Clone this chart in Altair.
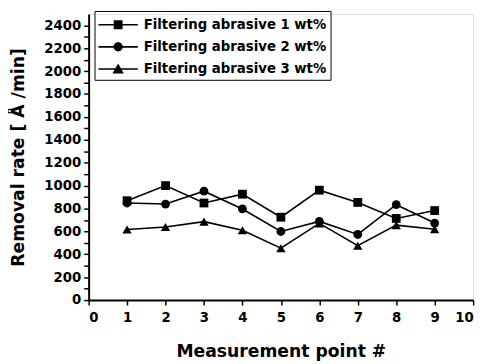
import altair as alt
import pandas as pd

points = [1, 2, 3, 4, 5, 6, 7, 8, 9]
series_names = ["Filtering abrasive 1 wt%", "Filtering abrasive 2 wt%", "Filtering abrasive 3 wt%"]
s1 = [868, 1000, 848, 925, 724, 960, 853, 713, 782]
s2 = [848, 839, 951, 796, 599, 687, 573, 833, 673]
s3 = [616, 638, 685, 610, 453, 670, 475, 655, 619]

rows = []
for name, vals in zip(series_names, [s1, s2, s3]):
    for p, v in zip(points, vals):
        rows.append({"point": p, "rate": v, "series": name})
df = pd.DataFrame(rows)

FONT = "DejaVu Sans"
shapes = ["square", "circle", "triangle-up"]
LINE = "M-1,-0.08H3V0.08H-1Z"
legend_paths = [
    LINE + "M0.55,-0.45H1.45V0.45H0.55Z",
    LINE + "M1.47,0A0.47,0.47,0,1,1,0.53,0A0.47,0.47,0,1,1,1.47,0Z",
    LINE + "M1,-0.55L1.58,0.45L0.42,0.45Z",
]

axis_common = dict(grid=False, tickSize=5, labelFont=FONT, titleFont=FONT,
                   labelFontWeight="bold", titleFontWeight="bold", labelOverlap=False,
                   domainColor="black", tickColor="black", labelColor="black",
                   titleColor="black", domainWidth=2, tickWidth=1.5,
                   labelFontSize=13.5, titleFontSize=17.5)

x = alt.X("point:Q", scale=alt.Scale(domain=[0, 10], nice=False),
          axis=alt.Axis(values=list(range(0, 11)), title="Measurement point #", format="d",
                        labelPadding=6, titlePadding=19, **axis_common))
y = alt.Y("rate:Q", scale=alt.Scale(domain=[0, 2500], nice=False),
          axis=alt.Axis(values=list(range(0, 2500, 100)), title="Removal rate [ Å /min]",
                        format="d",
                        labelExpr="datum.value % 200 == 0 ? datum.label : ''",
                        labelPadding=3, titlePadding=17, **axis_common))

base = alt.Chart(df)
lines = base.mark_line(color="black", strokeWidth=1.6).encode(
    x=x, y=y, detail="series:N")

pt_layers = []
for name, shp, sz in zip(series_names, shapes, [80, 80, 90]):
    pt_layers.append(
        base.transform_filter(alt.datum.series == name)
        .mark_point(filled=True, color="black", size=sz, opacity=1, shape=shp)
        .encode(x=x, y=y)
    )

leg = base.mark_point(filled=True, color="black", opacity=0).encode(
    x=x, y=y,
    size=alt.value(400),
    shape=alt.Shape("series:N", scale=alt.Scale(domain=series_names, range=legend_paths),
                    legend=alt.Legend(title=None, orient="none", legendX=6, legendY=-3,
                                      symbolSize=400, symbolOpacity=1, symbolFillColor="black",
                                      symbolStrokeWidth=0,
                                      labelFont=FONT, labelFontSize=13.5, labelFontWeight="bold",
                                      labelColor="black", labelOffset=26, padding=4,
                                      labelLimit=400,
                                      strokeColor="black", rowPadding=5.5)))

chart = alt.layer(lines, *pt_layers, leg).properties(
    width=391, height=291, autosize="none",
    padding={"left": 82, "top": 3, "right": 8, "bottom": 62},
).configure_view(stroke=None).configure(background="white")

chart.save("out.html", embed_options={"renderer": "svg", "actions": False})
